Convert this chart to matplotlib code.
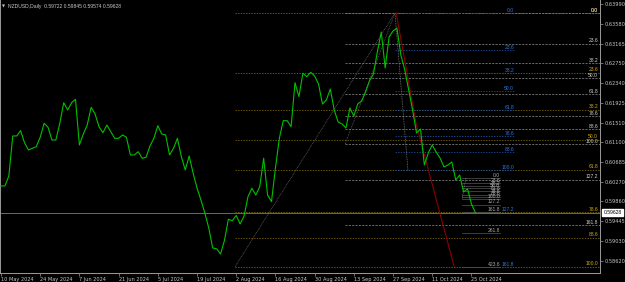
import matplotlib
matplotlib.use("Agg")
import matplotlib.pyplot as plt
import matplotlib.transforms as mtransforms

# ---------------- data ----------------
header = "NZDUSD,Daily  0.59722 0.59845 0.59574 0.59628"
date_labels = ["10 May 2024", "24 May 2024", "7 Jun 2024", "21 Jun 2024", "5 Jul 2024",
               "19 Jul 2024", "2 Aug 2024", "16 Aug 2024", "30 Aug 2024", "13 Sep 2024",
               "27 Sep 2024", "11 Oct 2024", "25 Oct 2024"]
date_bars = [0, 10, 20, 30, 40, 50, 60, 70, 80, 90, 100, 110, 120]

closes = [
    0.60185, 0.60185, 0.60394, 0.61232, 0.61232, 0.61343, 0.61091, 0.60939, 0.60974, 0.61008,
    0.61205, 0.61498, 0.61414, 0.61148, 0.61148, 0.61498, 0.61929, 0.61776, 0.61929, 0.62000,
    0.61043, 0.61274, 0.61462, 0.61833, 0.61692, 0.61427, 0.61301, 0.61462, 0.61322, 0.61183,
    0.61183, 0.61253, 0.61205, 0.60834, 0.60834, 0.60903, 0.60765, 0.60786, 0.61022, 0.61183,
    0.61447, 0.61274, 0.61253, 0.60834, 0.60974, 0.61183, 0.60802, 0.60520, 0.60813, 0.60457,
    0.60143, 0.59891, 0.59619, 0.59305, 0.58886, 0.58869, 0.58760, 0.59043, 0.59487, 0.59458,
    0.59567, 0.59389, 0.59556, 0.59960, 0.60136, 0.59996, 0.60170, 0.60765, 0.59996, 0.59856,
    0.60555, 0.61183, 0.61552, 0.61552, 0.61427, 0.62348, 0.62055, 0.62545, 0.62474, 0.62566,
    0.62488, 0.62321, 0.61902, 0.61986, 0.62216, 0.61776, 0.61525, 0.61483, 0.61399, 0.61818,
    0.61651, 0.61902, 0.61965, 0.62153, 0.62384, 0.62530, 0.62991, 0.63410, 0.62656, 0.63305,
    0.63431, 0.63494, 0.62928, 0.62614, 0.62195, 0.61776, 0.61295, 0.61378, 0.60624, 0.60876,
    0.61044, 0.60897, 0.60771, 0.60583, 0.60624, 0.60687, 0.60310, 0.60415, 0.60059, 0.60122,
    0.59808, 0.59628,
]
price_ticks = [0.63990, 0.63580, 0.63165, 0.62750, 0.62340, 0.61925, 0.61510, 0.61100,
               0.60685, 0.60270, 0.59860, 0.59445, 0.59030, 0.58620]
last_price = 0.59628

# Fibonacci objects (high price, low price, anchor bars)
grey_high, grey_low = 0.63808, 0.61064
grey_bars = [87.8, 100.5]
grey_levels = [0.0, 23.6, 38.2, 50.0, 61.8, 78.6, 88.6, 100.0, 127.2, 161.8]

yellow_high, yellow_low = 0.63808, 0.58494
yellow_bars = [59.7, 100.5]
yellow_levels = [0.0, 23.6, 38.2, 50.0, 61.8, 78.6, 88.6, 100.0]

blue_high, blue_low = 0.63808, 0.60520
blue_bars = [100.5, 103.8]
blue_end_bar = 130.9
blue_levels = [0.0, 23.6, 38.2, 50.0, 61.8, 78.6, 88.6, 100.0, 127.2, 161.8]

small_high, small_low = 0.60352, 0.59912
small_bars = [118.6, 117.6]
small_end_bar = 127.3
small_levels = [0.0, 23.6, 38.2, 50.0, 61.8, 78.6, 88.6, 100.0, 127.2, 161.8, 261.8, 423.6]

red_bars = [100.8, 105.9, 115.6]
red_prices = [0.63808, 0.61483, 0.58494]

# ---------------- figure ----------------
W, H = 625, 282
fig = plt.figure(figsize=(W / 100, H / 100), dpi=100, facecolor="black")
ax = fig.add_axes([0, 9 / H, 600 / W, 273 / H], facecolor="black")

XMIN, XMAX = -0.255, 152.8
YMIN, YMAX = 0.58362, 0.64080
ax.set_xlim(XMIN, XMAX)
ax.set_ylim(YMIN, YMAX)

FS = 3.6
TXT = "#c8c8c8"
FONT = "Liberation Sans"
plt.rcParams["font.family"] = [FONT, "DejaVu Sans"]

label_right = 152.3


def fib_price(hi, lo, lv):
    return hi - lv / 100.0 * (hi - lo)


def draw_fib(hi, lo, x0, x1, levels, lc, ls, lw, tc, lx, z=2):
    for lv in levels:
        p = fib_price(hi, lo, lv)
        ax.plot([x0, x1], [p, p], color=lc, ls=ls, lw=lw, zorder=z)
        ax.annotate(f"{lv:.1f}", xy=(lx, p), xytext=(0, 0.3), textcoords="offset points",
                    ha="right", va="bottom", color=tc, fontsize=FS, zorder=z + 1)


# yellow fib
draw_fib(yellow_high, yellow_low, yellow_bars[0], XMAX, yellow_levels,
         "#7d6a08", (0, (1.6, 1.6)), 0.6, "#d7ad0a", label_right)
ax.plot(yellow_bars, [yellow_low, yellow_high], color="#707070", ls=(0, (1.2, 1.2)), lw=0.5, zorder=2)

# grey fib
draw_fib(grey_high, grey_low, grey_bars[0], XMAX, grey_levels,
         "#7a7a7a", (0, (2.5, 1.5)), 0.6, "#d0d0d0", label_right)
ax.plot(grey_bars, [grey_low, grey_high], color="#707070", ls=(0, (1.2, 1.2)), lw=0.5, zorder=2)

# blue fib
draw_fib(blue_high, blue_low, blue_bars[0], blue_end_bar, blue_levels,
         "#1d4f9e", (0, (1.6, 1.6)), 0.6, "#2f78e0", blue_end_bar)
ax.plot(blue_bars, [blue_high, blue_low], color="#8a8a8a", ls=(0, (1.2, 1.2)), lw=0.5, zorder=2)

# small fib
draw_fib(small_high, small_low, small_bars[1], small_end_bar, small_levels,
         "#555555", "-", 0.5, "#a8a8a8", small_end_bar)
ax.plot(small_bars, [small_high, small_low], color="#8a8a8a", ls=(0, (1.2, 1.2)), lw=0.5, zorder=2)

# red trend line
ax.plot(red_bars, red_prices, color="#8b0000", lw=0.8, zorder=3)

# bid line
ax.axhline(last_price, color="#6a6a6a", lw=0.7, zorder=2)

# price line
ax.plot(range(len(closes)), closes, color="#00c000", lw=0.8, zorder=5)

# axes styling
for s in ["top"]:
    ax.spines[s].set_visible(False)
for s in ["left", "right", "bottom"]:
    ax.spines[s].set_color("#9a9a9a")
    ax.spines[s].set_linewidth(0.7)

ax.yaxis.tick_right()
ax.set_yticks(price_ticks)
ax.set_yticklabels([f"{p:.5f}" for p in price_ticks])
ax.tick_params(axis="y", colors="#9a9a9a", labelcolor=TXT, labelsize=FS, length=2, width=0.5, pad=1.5)
ax.set_xticks(date_bars)
ax.set_xticklabels(date_labels, ha="left")
ax.tick_params(axis="x", colors="#9a9a9a", labelcolor=TXT, labelsize=FS, length=2, width=0.5, pad=1.0)
for lab in ax.get_xticklabels():
    lab.set_horizontalalignment("left")

# current price box
trans = mtransforms.blended_transform_factory(ax.transAxes, ax.transData)
ax.annotate(f"{last_price:.5f}", xy=(1.0, last_price), xycoords=trans, xytext=(2.5, 0),
            textcoords="offset points", ha="left", va="center", fontsize=FS, color="black",
            bbox=dict(boxstyle="square,pad=0.25", fc="white", ec="white"), annotation_clip=False,
            zorder=10)

# header
ax.text(0.004, 0.985, "\u25bc", transform=ax.transAxes, ha="left", va="top",
        fontsize=2.8, color=TXT, family="DejaVu Sans")
ax.text(0.014, 0.985, header, transform=ax.transAxes, ha="left", va="top",
        fontsize=FS, color=TXT)

fig.savefig("out.png", dpi=100, facecolor="black")
